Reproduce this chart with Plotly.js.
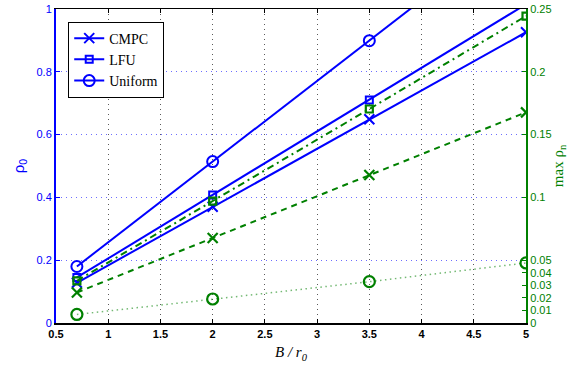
<!DOCTYPE html>
<html><head><meta charset="utf-8">
<script src="https://cdn.plot.ly/plotly-3.0.1.min.js"></script>
<style>html,body{margin:0;padding:0;background:#fff}#c{width:585px;height:365px}</style>
</head><body><div id="c"></div>
<script>
const xVals = [0.7, 2, 3.5, 5];
// left axis: rho_0
const rho0CMPC = [0.128, 0.370, 0.649, 0.926];
const rho0LFU = [0.145, 0.408, 0.710, 1.015];
const rho0Uniform = [0.180, 0.514, 0.899, 1.285];
// right axis: max rho_n
const maxCMPC = [0.0243, 0.0677, 0.1178, 0.1677];
const maxLFU = [0.0336, 0.0971, 0.1704, 0.2444];
const maxUniform = [0.0068, 0.0191, 0.0329, 0.0478];
const seriesNames = ['CMPC', 'LFU', 'Uniform'];
const xTicks = [0.5, 1, 1.5, 2, 2.5, 3, 3.5, 4, 4.5, 5];
const xTickText = ['0.5', '1', '1.5', '2', '2.5', '3', '3.5', '4', '4.5', '5'];
const yTicks = [0, 0.2, 0.4, 0.6, 0.8, 1];
const yTickText = ['0', '0.2', '0.4', '0.6', '0.8', '1'];
const y2Ticks = [0, 0.01, 0.02, 0.03, 0.04, 0.05, 0.1, 0.15, 0.2, 0.25];
const y2TickText = ['0', '0.01', '0.02', '0.03', '0.04', '0.05', '0.1', '0.15', '0.2', '0.25'];

const BLUE = 'rgb(0,0,255)';
const GREEN = 'rgb(0,128,0)';
const symbols = ['x-thin-open', 'square-open', 'circle-open'];
const msize = [10, 7, 11];

const blueData = [rho0CMPC, rho0LFU, rho0Uniform];
const greenData = [maxCMPC, maxLFU, maxUniform];
const greenDash = ['6px,5px', '7px,4px,2px,4px', '1.5px,3.5px'];

const traces = [];
greenData.forEach((d, i) => {
  traces.push({
    x: xVals, y: d, yaxis: 'y2', type: 'scatter', mode: 'lines+markers',
    name: seriesNames[i] + ' max', showlegend: false,
    line: {color: i === 2 ? 'rgba(0,128,0,0.55)' : GREEN, width: i === 2 ? 1.5 : 2, dash: greenDash[i]},
    marker: {symbol: symbols[i], size: msize[i], color: GREEN, line: {color: GREEN, width: 2.2}}
  });
});
blueData.forEach((d, i) => {
  traces.push({
    x: xVals, y: d, type: 'scatter', mode: 'lines+markers', name: seriesNames[i],
    line: {color: BLUE, width: 2},
    marker: {symbol: symbols[i], size: msize[i], color: BLUE, line: {color: BLUE, width: 2}}
  });
});

const layout = {
  width: 585, height: 365,
  margin: {l: 56, r: 59, t: 9, b: 42},
  paper_bgcolor: '#fff', plot_bgcolor: '#fff',
  showlegend: true,
  legend: {
    x: 0.026, y: 0.96, xanchor: 'left', yanchor: 'top',
    bgcolor: '#fff', bordercolor: '#000', borderwidth: 1,
    font: {family: 'Liberation Serif, Times New Roman, serif', size: 14, color: '#000'},
    itemwidth: 30, tracegroupgap: 0
  },
  xaxis: {
    range: [0.5, 5], tickmode: 'array', tickvals: xTicks, ticktext: xTickText,
    showline: true, linecolor: '#000', linewidth: 1.5, mirror: 'ticks',
    ticks: 'inside', ticklen: 4, tickcolor: '#000',
    showgrid: true, gridcolor: 'rgb(90,90,90)', griddash: '1px,4px', gridwidth: 1,
    zeroline: false,
    tickfont: {family: 'Liberation Sans, Arial, sans-serif', size: 11, color: '#000', weight: 'bold'},
    title: {text: '<i>B / r<sub>0</sub></i>', standoff: 8,
      font: {family: 'Liberation Serif, Times New Roman, serif', size: 15, color: '#000'}}
  },
  yaxis: {
    range: [0, 1], tickmode: 'array', tickvals: yTicks, ticktext: yTickText,
    showline: true, linecolor: BLUE, linewidth: 2,
    ticks: 'inside', ticklen: 4, tickcolor: BLUE,
    showgrid: true, gridcolor: 'rgb(110,110,255)', griddash: '1px,4px', gridwidth: 1,
    zeroline: false,
    tickfont: {family: 'Liberation Sans, Arial, sans-serif', size: 11, color: BLUE},
    title: {text: 'ρ<sub>0</sub>', standoff: 8,
      font: {family: 'Liberation Sans, Arial, sans-serif', size: 15, color: BLUE}}
  },
  yaxis2: {
    range: [0, 0.25], overlaying: 'y', side: 'right',
    tickmode: 'array', tickvals: y2Ticks, ticktext: y2TickText,
    showline: true, linecolor: GREEN, linewidth: 2,
    ticks: 'inside', ticklen: 4, tickcolor: GREEN,
    showgrid: false, zeroline: false,
    tickfont: {family: 'Liberation Sans, Arial, sans-serif', size: 11, color: GREEN},
    title: {text: 'max ρ<sub>n</sub>', standoff: 2,
      font: {family: 'Liberation Serif, Times New Roman, serif', size: 15, color: GREEN}}
  }
};

Plotly.newPlot('c', traces, layout, {displayModeBar: false, staticPlot: true});
</script>
</body></html>
